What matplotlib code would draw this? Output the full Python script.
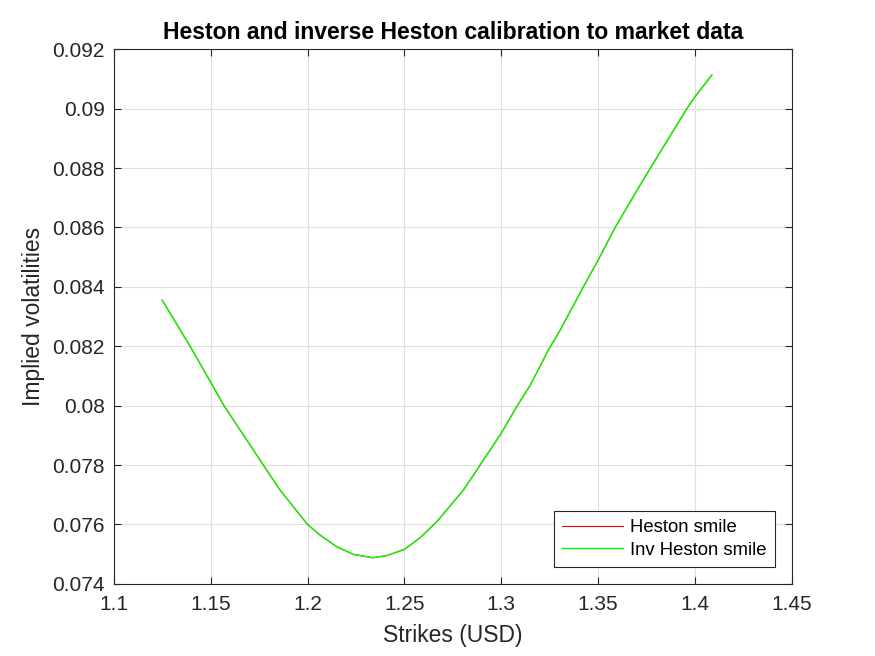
"""Heston vs inverse Heston implied volatility smile."""
import matplotlib
matplotlib.use("Agg")
import matplotlib.pyplot as plt

# strikes and implied vols
strikes = [1.1250, 1.1394, 1.1523, 1.1569, 1.1650, 1.1772, 1.1858, 1.2000,
           1.2065, 1.2151, 1.2237, 1.2337, 1.2409, 1.2500, 1.2581, 1.2667,
           1.2805, 1.2891, 1.3000, 1.3083, 1.3150, 1.3243, 1.3304, 1.3424,
           1.3500, 1.3588, 1.3700, 1.3770, 1.3850, 1.3958, 1.4000, 1.4087]
heston_vol = [0.08355, 0.08200, 0.08053, 0.08000, 0.07920, 0.07800, 0.07716, 0.07600,
              0.07564, 0.07525, 0.07499, 0.07488, 0.07495, 0.07516, 0.07555, 0.07609,
              0.07716, 0.07800, 0.07907, 0.08000, 0.08069, 0.08187, 0.08254, 0.08400,
              0.08490, 0.08600, 0.08724, 0.08800, 0.08885, 0.09000, 0.09040, 0.09113]
# inverse Heston calibration overlays the Heston one
inv_heston_vol = list(heston_vol)

x_ticks = [1.1, 1.15, 1.2, 1.25, 1.3, 1.35, 1.4, 1.45]
y_ticks = [0.074, 0.076, 0.078, 0.08, 0.082, 0.084, 0.086, 0.088, 0.09, 0.092]

AX_COLOR = "#262626"

plt.rcParams["font.family"] = ["Liberation Sans", "DejaVu Sans"]

fig = plt.figure(figsize=(8.75, 6.56), dpi=100)
ax = fig.add_axes([0.13, 0.11, 0.775, 0.815])

ax.plot(strikes, heston_vol, color="#ff0000", lw=0.8, label="Heston smile")
ax.plot(strikes, inv_heston_vol, color="#00ff00", lw=1.0, label="Inv Heston smile")

ax.set_xlim(1.1, 1.45)
ax.set_ylim(0.074, 0.092)
ax.set_xticks(x_ticks)
ax.set_xticklabels([f"{t:g}" for t in x_ticks])
ax.set_yticks(y_ticks)
ax.set_yticklabels([f"{t:g}" for t in y_ticks])

ax.grid(True, color="#dfdfdf", lw=0.8)
ax.set_axisbelow(True)
ax.tick_params(direction="in", top=True, right=True, length=5, width=0.8,
               colors=AX_COLOR, labelsize=15)
ax.tick_params(axis="x", pad=8)
ax.tick_params(axis="y", pad=6.5)
for s in ax.spines.values():
    s.set_color(AX_COLOR)
    s.set_linewidth(0.8)

ax.set_xlabel("Strikes (USD)", fontsize=16.5, color=AX_COLOR, labelpad=7)
ax.set_ylabel("Implied volatilities", fontsize=16.5, color=AX_COLOR, labelpad=5)
ax.set_title("Heston and inverse Heston calibration to market data",
             fontsize=16.6, fontweight="bold", color="black", pad=7)

leg = ax.legend(loc="lower right", fontsize=13.3, fancybox=False,
                edgecolor=AX_COLOR, framealpha=1, borderaxespad=0.9,
                handlelength=3.3, borderpad=0.45, labelspacing=0.3,
                handletextpad=0.4)
leg.get_frame().set_linewidth(0.8)

fig.savefig("out.png", dpi=100)
